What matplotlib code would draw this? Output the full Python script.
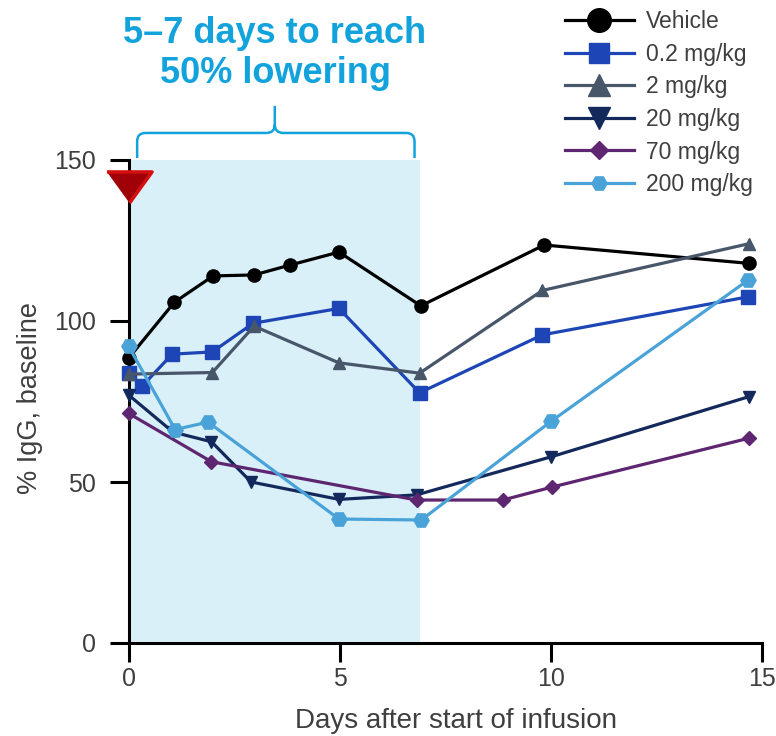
import matplotlib
matplotlib.use("Agg")
import matplotlib.pyplot as plt
from matplotlib.path import Path
from matplotlib.patches import PathPatch
from matplotlib.lines import Line2D

plt.rcParams['font.family'] = ['Liberation Sans', 'DejaVu Sans']

# Days after start of infusion and % IgG of baseline for each dose group
vehicle_x = [0, 1.08, 2.0, 2.97, 3.83, 4.98, 6.92, 9.84, 14.69]
vehicle_y = [88.5, 105.8, 114.0, 114.3, 117.4, 121.4, 104.7, 123.6, 117.9]

dose02_x = [0, 0.32, 1.03, 1.98, 2.95, 4.98, 6.89, 9.8, 14.67]
dose02_y = [83.8, 79.8, 89.7, 90.4, 99.3, 103.9, 77.7, 95.7, 107.5]

dose2_x = [0, 1.98, 2.97, 4.98, 6.89, 9.8, 14.69]
dose2_y = [83.5, 84.0, 98.4, 87.0, 83.8, 109.5, 124.0]

dose20_x = [0, 1.05, 1.96, 2.9, 4.98, 6.82, 10.0, 14.69]
dose20_y = [77.0, 65.5, 62.5, 50.0, 44.6, 46.0, 57.8, 76.5]

dose70_x = [0, 1.96, 6.82, 8.86, 10.02, 14.69]
dose70_y = [71.3, 56.3, 44.4, 44.4, 48.4, 63.6]

dose200_x = [0, 1.1, 1.88, 4.98, 6.93, 10.0, 14.67]
dose200_y = [92.1, 66.3, 68.6, 38.5, 38.2, 68.8, 112.7]

labels = ['Vehicle', '0.2 mg/kg', '2 mg/kg', '20 mg/kg', '70 mg/kg', '200 mg/kg']
colors = ['#000000', '#1d45b6', '#48566a', '#13295c', '#5e2670', '#4aa3d8']
markers = ['o', 's', '^', 'v', 'D', 'H']
plot_ms = [9.5, 9.5, 8.5, 8.5, 7.5, 11]
legend_ms = [17, 15, 16, 16, 9.5, 11]

series = [(vehicle_x, vehicle_y), (dose02_x, dose02_y), (dose2_x, dose2_y),
          (dose20_x, dose20_y), (dose70_x, dose70_y), (dose200_x, dose200_y)]

lowering_window = (0, 6.9)   # days shaded as the lowering window
infusion_start = (0, 141.5)  # infusion start marker

xticks = [0, 5, 10, 15]
yticks = [0, 50, 100, 150]

text_gray = '#3f3f3f'
accent = '#12a3dc'

fig = plt.figure(figsize=(7.76, 7.36), dpi=100)
ax = fig.add_axes([128.7 / 776, 1 - 643 / 736, (762 - 128.7) / 776, (643 - 160) / 736])

ax.axvspan(lowering_window[0], lowering_window[1], ymin=0, ymax=1,
           color='#daf0f9', lw=0, zorder=0)

for (xs, ys), c, m, ms in zip(series, colors, markers, plot_ms):
    ax.plot(xs, ys, color=c, lw=2.3, marker=m, ms=ms, mfc=c, mec=c,
            clip_on=False, zorder=3)

# infusion start marker
tri = [(-1, 0.69), (1, 0.69), (0, -0.69)]
ax.plot([infusion_start[0]], [infusion_start[1]], marker=tri, ms=32.5,
        mfc='#a00008', mec='#d40f0f', mew=2.5, ls='none', clip_on=False, zorder=6)

ax.set_xlim(0, 15)
ax.set_ylim(0, 150)
ax.set_xticks(xticks)
ax.set_yticks(yticks)
for s in ['top', 'right']:
    ax.spines[s].set_visible(False)
for s in ['left', 'bottom']:
    ax.spines[s].set_linewidth(2.2)
ax.tick_params(axis='both', direction='out', length=13.5, width=2.2,
               labelsize=18, labelcolor=text_gray)
ax.tick_params(axis='x', pad=3.5)
ax.tick_params(axis='y', pad=10)

ax.set_xlabel('Days after start of infusion', fontsize=20, color=text_gray)
ax.xaxis.set_label_coords(0.517, -0.134)
ax.set_ylabel('% IgG, baseline', fontsize=19.5, color=text_gray)
ax.yaxis.set_label_coords(-0.136, 0.507)

# curly brace over the lowering window
xl, xr, xm = 0.2, 6.77, 3.46
yt, yb, yp = 150.6, 158.4, 166.8
rx, ry = 0.2, 2.6
verts = [(xl, yt), (xl, yb - ry), (xl, yb), (xl + rx, yb), (xm - rx, yb),
         (xm, yb), (xm, yb + ry), (xm, yp),
         (xm, yb + ry), (xm, yb), (xm + rx, yb), (xr - rx, yb),
         (xr, yb), (xr, yb - ry), (xr, yt)]
codes = [Path.MOVETO, Path.LINETO, Path.CURVE3, Path.CURVE3, Path.LINETO,
         Path.CURVE3, Path.CURVE3, Path.LINETO,
         Path.MOVETO, Path.CURVE3, Path.CURVE3, Path.LINETO,
         Path.CURVE3, Path.CURVE3, Path.LINETO]
ax.add_patch(PathPatch(Path(verts, codes), fill=False, ec=accent, lw=1.8,
                       clip_on=False, zorder=4))

fig.text(275 / 776, 1 - 43 / 736, '5–7 days to reach', ha='center', va='baseline',
         fontsize=26, fontweight='bold', color=accent)
fig.text(275 / 776, 1 - 83 / 736, '50% lowering', ha='center', va='baseline',
         fontsize=26, fontweight='bold', color=accent)

handles = [Line2D([0], [0], color=c, lw=2.3, marker=m, ms=ms, mfc=c, mec=c)
           for c, m, ms in zip(colors, markers, legend_ms)]
leg = fig.legend(handles, labels, loc='upper left', bbox_to_anchor=(565 / 776, 1 - 10 / 736),
                 frameon=False, fontsize=16.5, handlelength=3.0, handletextpad=0.55,
                 labelspacing=0.42, borderpad=0, borderaxespad=0)
for t in leg.get_texts():
    t.set_color(text_gray)

fig.savefig('out.png', dpi=100)
